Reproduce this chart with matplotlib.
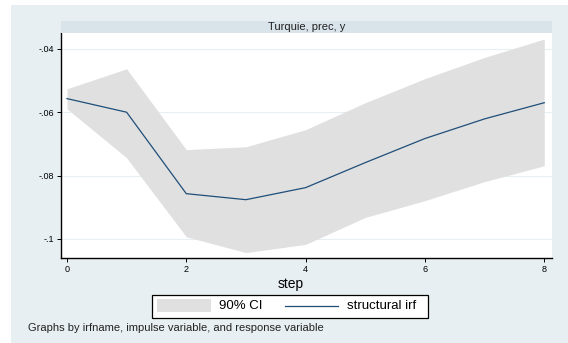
import numpy as np
import matplotlib.pyplot as plt
from matplotlib.patches import Rectangle
from matplotlib.lines import Line2D

plt.rcParams['font.family'] = ['Liberation Sans', 'DejaVu Sans']

steps = [0, 1, 2, 3, 4, 5, 6, 7, 8]
irf = [-0.0557, -0.0600, -0.0857, -0.0876, -0.0838, -0.0759, -0.0683, -0.0621, -0.0570]
ci_upper = [-0.0526, -0.0463, -0.0718, -0.0709, -0.0655, -0.0570, -0.0494, -0.0427, -0.0369]
ci_lower = [-0.0589, -0.0744, -0.0993, -0.1043, -0.1017, -0.0932, -0.0879, -0.0819, -0.0769]
yticks = [-0.10, -0.08, -0.06, -0.04]
ytick_labels = ['-.1', '-.08', '-.06', '-.04']
xticks = [0, 2, 4, 6, 8]
legend_labels = ['90% CI', 'structural irf']

CI_COLOR = '#e0e0e0'
LINE_COLOR = '#1f4e79'

W, H = 568, 343
fig = plt.figure(figsize=(W / 100, H / 100), dpi=100)
fig.patch.set_facecolor('white')


def fx(px):
    return px / W


def fy(py):
    return 1 - py / H


def frect(x0, y0, x1, y1, **kw):
    # rectangle given in pixel coords (top-left origin)
    r = Rectangle((fx(x0), fy(y1)), fx(x1) - fx(x0), fy(y0) - fy(y1),
                  transform=fig.transFigure, **kw)
    fig.add_artist(r)
    return r


# outer background
frect(11, 5, W, H, facecolor='#e8eff2', edgecolor='none', zorder=0)
# title strip
frect(61, 21, 552, 33, facecolor='#d8e3ea', edgecolor='none', zorder=1)
fig.text((fx(61) + fx(552)) / 2, fy(27.5), 'Turquie, prec, y', ha='center', va='center',
         fontsize=8, color='#222222')

ax = fig.add_axes([fx(61), fy(258), fx(552) - fx(61), fy(33) - fy(258)])
ax.set_facecolor('white')
ax.fill_between(steps, ci_lower, ci_upper, color=CI_COLOR, linewidth=0, zorder=2)
ax.plot(steps, irf, color=LINE_COLOR, linewidth=0.9, zorder=3)

ax.set_xlim(-0.1, 8.13)
ax.set_ylim(-0.106, -0.035)
ax.set_xticks(xticks)
ax.set_xticklabels([str(t) for t in xticks], fontsize=6.5)
ax.set_yticks(yticks)
ax.set_yticklabels(ytick_labels, fontsize=6.5)
ax.grid(axis='y', color='#e6f0f2', linewidth=0.8, zorder=1)
ax.set_axisbelow(True)
for s in ['top', 'right']:
    ax.spines[s].set_visible(False)
for s in ['left', 'bottom']:
    ax.spines[s].set_linewidth(1.0)
    ax.spines[s].set_color('black')
ax.tick_params(length=3, width=0.7, pad=2, colors='black')

fig.text(fx(291), fy(284), 'step', ha='center', va='center', fontsize=10)

# legend box
frect(152, 295, 428, 318, facecolor='white', edgecolor='black', linewidth=0.9, zorder=2)
frect(157, 299, 211, 312, facecolor=CI_COLOR, edgecolor='none', zorder=3)
fig.text(fx(219), fy(306), legend_labels[0], ha='left', va='center', fontsize=9.5, zorder=3)
fig.add_artist(Line2D([fx(285), fx(338)], [fy(306), fy(306)], transform=fig.transFigure,
                      color=LINE_COLOR, linewidth=0.9, zorder=3))
fig.text(fx(347), fy(306), legend_labels[1], ha='left', va='center', fontsize=9.5, zorder=3)

fig.text(fx(28), fy(328), 'Graphs by irfname, impulse variable, and response variable',
         ha='left', va='center', fontsize=8, color='#222222')

fig.savefig('out.png', dpi=100)
